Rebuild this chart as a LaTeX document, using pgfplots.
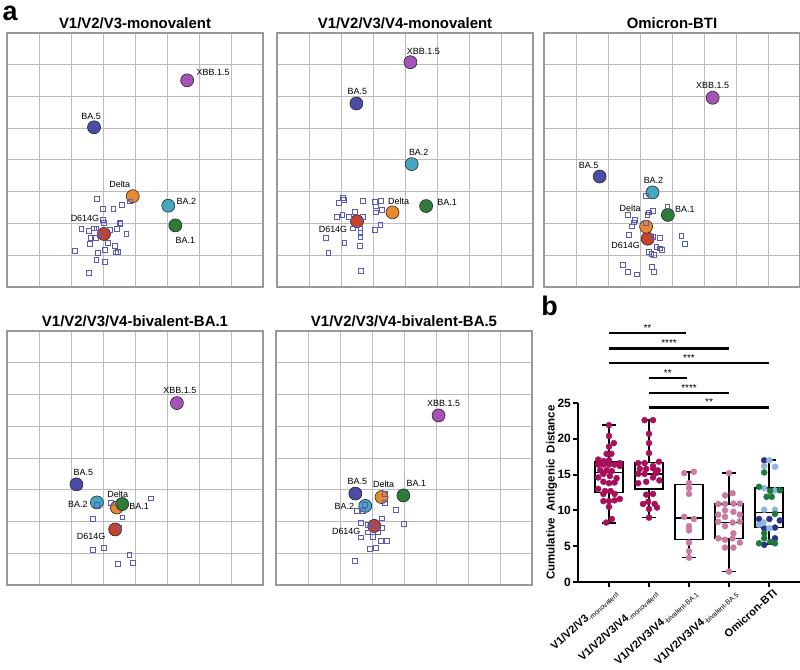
\documentclass[border=0pt]{standalone}
\usepackage{pgfplots}
\pgfplotsset{compat=1.18}
\usepgfplotslibrary{statistics}
\usepackage{fontspec}
\setmainfont{Liberation Sans}

\definecolor{cXBB}{HTML}{A652B6}
\definecolor{cBAfive}{HTML}{4B4BA8}
\definecolor{cDelta}{HTML}{E8892F}
\definecolor{cBAtwo}{HTML}{46A7C1}
\definecolor{cBAone}{HTML}{2F7B3A}
\definecolor{cD}{HTML}{C8422B}
\definecolor{sq}{HTML}{5A5AB8}
\definecolor{gridg}{HTML}{BBBBBB}
\definecolor{borderg}{HTML}{999999}
\definecolor{crim}{HTML}{A8105C}
\definecolor{pinkc}{HTML}{CB7AA2}
\definecolor{navyc}{HTML}{2B3387}
\definecolor{lblue}{HTML}{8DB4E2}
\definecolor{greenc}{HTML}{1C7A3D}

\newcommand{\titfont}{\fontsize{15}{15}\bfseries\selectfont}
\newcommand{\labfont}{\fontsize{9}{9}\selectfont}
\newcommand{\xtfont}{\fontsize{11}{11}\bfseries\selectfont}
\newcommand{\subf}[1]{\raisebox{-2bp}{\fontsize{7}{7}\mdseries\selectfont #1}}
\newcommand{\starf}{\fontsize{10}{10}\selectfont}

\pgfplotsset{
  mapax/.style={anchor=south west, scale only axis, width=256bp, height=254bp,
    xmin=0, xmax=8, ymin=0, ymax=8, xtick={0,...,8}, ytick={0,...,8},
    xticklabels={}, yticklabels={}, major tick length=0pt, grid=major,
    major grid style={gridg, line width=1bp},
    axis line style={borderg, line width=1.4bp}, clip=false,
    every axis title/.style={at={(0.5,1)}, anchor=south, inner sep=0pt, yshift=4bp, font=\titfont}},
  sqp/.style={only marks, mark=square, mark size=2.4bp, draw=sq, mark options={draw=sq, fill=none, line width=0.6bp}},
  sigbar/.style={draw=black, line width=2.4bp, mark=none},
}

% color, x, y, label, dx, dy
\newcommand{\vir}[6]{%
  \addplot[only marks, mark=*, mark size=6.5bp, mark options={fill=#1, draw=black!85, line width=0.6bp}] coordinates {(#2,#3)};
  \node[font=\labfont, inner sep=0pt, xshift=#5bp, yshift=#6bp] at (axis cs:#2,#3) {#4};}

\begin{document}
\begin{tikzpicture}
\useasboundingbox (0,0) rectangle (800bp,670bp);

\node[font=\fontsize{27}{27}\bfseries\selectfont, inner sep=0pt] at (10bp,657bp) {a};
\node[font=\fontsize{27}{27}\bfseries\selectfont, inner sep=0pt] at (549.5bp,364bp) {b};

% Panel 1
\begin{axis}[mapax, at={(7bp,383bp)}, title={V1/V2/V3-monovalent}]
\vir{cD}{3.03}{1.67}{D614G}{-19}{16}
\vir{cDelta}{3.93}{2.86}{Delta}{-13}{12}
\vir{cBAtwo}{5.04}{2.56}{BA.2}{18}{4}
\vir{cBAone}{5.26}{1.94}{BA.1}{10}{-15}
\vir{cBAfive}{2.72}{5.03}{BA.5}{-3}{11}
\vir{cXBB}{5.63}{6.51}{XBB.1.5}{26}{8}
\addplot[sqp] coordinates {(2.81,2.78) (3.00,2.47) (3.32,2.47) (3.59,2.60) (3.83,2.70) (3.00,2.12) (3.03,2.03) (3.52,2.02) (3.54,1.99) (2.32,1.83) (2.56,1.77) (2.71,1.85) (2.79,1.85) (2.90,1.65) (3.21,1.81) (3.44,1.83) (3.73,1.67) (2.60,1.56) (2.77,1.54) (3.16,1.39) (3.36,1.31) (2.58,1.35) (2.11,1.15) (3.05,1.18) (2.84,1.07) (3.40,1.09) (3.47,1.12) (2.79,0.86) (3.05,0.80) (2.56,0.44)};
\end{axis}

% Panel 2
\begin{axis}[mapax, at={(277bp,383bp)}, title={V1/V2/V3/V4-monovalent}]
\vir{cD}{2.50}{2.07}{D614G}{-24}{-8}
\vir{cDelta}{3.61}{2.35}{Delta}{6}{11}
\vir{cBAtwo}{4.21}{3.87}{BA.2}{7}{12}
\vir{cBAone}{4.66}{2.55}{BA.1}{21}{4}
\vir{cBAfive}{2.48}{5.78}{BA.5}{1}{12}
\vir{cXBB}{4.17}{7.08}{XBB.1.5}{13}{11}
\addplot[sqp] coordinates {(2.06,2.81) (2.09,2.74) (1.92,2.65) (2.67,2.72) (3.05,2.69) (3.25,2.71) (3.09,2.54) (3.27,2.44) (3.08,2.35) (2.44,2.38) (2.04,2.28) (1.88,2.22) (2.25,2.22) (2.67,2.20) (2.38,1.85) (2.60,1.85) (2.60,1.71) (2.60,1.58) (3.06,1.81) (3.23,1.96) (1.53,1.54) (2.10,1.40) (2.58,1.31) (1.60,1.08) (2.62,0.50)};
\end{axis}

% Panel 3
\begin{axis}[mapax, at={(544bp,383bp)}, title={Omicron-BTI}]
\vir{cD}{3.24}{1.52}{D614G}{-22}{-7}
\vir{cDelta}{3.19}{1.90}{Delta}{-16}{18}
\vir{cBAtwo}{3.39}{2.98}{BA.2}{1}{12}
\vir{cBAone}{3.87}{2.27}{BA.1}{17}{6}
\vir{cBAfive}{1.74}{3.48}{BA.5}{-11}{11}
\vir{cXBB}{5.27}{5.96}{XBB.1.5}{0}{12}
\addplot[sqp] coordinates {(3.19,2.88) (3.85,2.54) (3.41,2.41) (3.28,2.35) (3.23,2.27) (2.62,2.27) (2.84,2.12) (2.81,2.04) (2.75,1.91) (3.17,2.01) (2.65,1.64) (3.40,1.59) (3.61,1.54) (4.29,1.62) (4.41,1.36) (3.51,1.26) (3.61,1.22) (3.68,1.17) (3.28,1.10) (3.35,1.05) (3.43,1.01) (2.45,0.71) (2.63,0.47) (2.91,0.40) (3.36,0.63) (3.43,0.49)};
\end{axis}

% Panel 4
\begin{axis}[mapax, at={(7bp,85bp)}, title={V1/V2/V3/V4-bivalent-BA.1}]
\vir{cD}{3.38}{1.75}{D614G}{-24}{-7}
\vir{cBAtwo}{2.81}{2.60}{BA.2}{-19}{-2}
\vir{cDelta}{3.43}{2.44}{Delta}{1}{13}
\vir{cBAone}{3.60}{2.55}{BA.1}{17}{-2}
\vir{cBAfive}{2.17}{3.17}{BA.5}{7}{12}
\vir{cXBB}{5.31}{5.73}{XBB.1.5}{3}{13}
\addplot[sqp] coordinates {(4.50,2.73) (3.24,2.59) (2.80,2.52) (3.60,2.13) (2.67,2.09) (3.51,1.80) (2.67,1.11) (3.03,1.17) (3.82,0.94) (3.93,0.70) (3.46,0.67)};
\end{axis}

% Panel 5
\begin{axis}[mapax, at={(276bp,85bp)}, title={V1/V2/V3/V4-bivalent-BA.5}]
\vir{cD}{3.07}{1.86}{D614G}{-28}{-5}
\vir{cDelta}{3.30}{2.77}{Delta}{2}{13}
\vir{cBAone}{3.98}{2.82}{BA.1}{13}{12}
\vir{cBAfive}{2.48}{2.88}{BA.5}{2}{12}
\vir{cBAtwo}{2.79}{2.49}{BA.2}{-21}{0}
\vir{cXBB}{5.08}{5.34}{XBB.1.5}{5}{12}
\addplot[sqp] coordinates {(3.41,2.88) (3.40,2.59) (2.77,2.52) (2.52,2.34) (2.70,2.34) (3.75,2.37) (3.30,2.10) (3.99,1.93) (2.65,1.96) (2.86,1.89) (3.00,1.89) (3.31,1.80) (2.86,1.66) (3.19,1.67) (3.02,1.52) (2.65,1.50) (3.28,1.39) (3.47,1.39) (2.92,1.14) (3.12,1.17) (2.47,0.75)};
\end{axis}

% Panel b
\begin{axis}[at={(578bp,88bp)}, anchor=south west, scale only axis, width=222bp, height=179bp,
  xmin=-0.775, xmax=4.775, ymin=0, ymax=25, clip=false,
  axis x line*=bottom, axis y line*=left,
  axis line style={line width=2.2bp, black, -},
  xtick={0,...,4}, ytick={0,5,...,25},
  xticklabels={{\textbf{V1/V2/V3}\subf{-monovalent}},{\textbf{V1/V2/V3/V4}\subf{-monovalent}},{\textbf{V1/V2/V3/V4}\subf{-bivalent-BA.1}},{\textbf{V1/V2/V3/V4}\subf{-bivalent-BA.5}},{\textbf{Omicron-BTI}}},
  tick align=outside, major tick length=5bp, tick style={line width=2bp, black},
  /pgf/number format/assume math mode=true,
  yticklabel style={font=\fontsize{12}{12}\bfseries\selectfont, inner sep=2bp},
  xticklabel style={rotate=42, anchor=north east, font=\xtfont, inner sep=1bp, xshift=3bp, yshift=-2bp},
  ylabel={Cumulative\ \ Antigenic\ \ Distance},
  every axis y label/.style={at={(axis description cs:-0.118,0.5)}, rotate=90, anchor=center, font=\fontsize{11.5}{11.5}\bfseries\selectfont},
  boxplot/draw direction=y, boxplot/box extend=0.7, boxplot/whisker extend=0.33]
\addplot[boxplot prepared={draw position=0, median=15.3, upper quartile=16.8, lower quartile=12.5, upper whisker=21.9, lower whisker=8.2}, draw=black, fill=white, line width=1.6bp] coordinates {};
\addplot[boxplot prepared={draw position=1, median=15.1, upper quartile=16.7, lower quartile=13.0, upper whisker=22.6, lower whisker=9.0}, draw=black, fill=white, line width=1.6bp] coordinates {};
\addplot[boxplot prepared={draw position=2, median=8.9, upper quartile=13.6, lower quartile=5.95, upper whisker=15.4, lower whisker=3.4}, draw=black, fill=white, line width=1.6bp] coordinates {};
\addplot[boxplot prepared={draw position=3, median=8.3, upper quartile=10.9, lower quartile=6.1, upper whisker=15.2, lower whisker=1.45}, draw=black, fill=white, line width=1.6bp] coordinates {};
\addplot[boxplot prepared={draw position=4, median=9.7, upper quartile=13.1, lower quartile=7.6, upper whisker=17.0, lower whisker=5.3}, draw=black, fill=white, line width=1.6bp] coordinates {};

\addplot[only marks, mark=*, mark size=3bp, color=crim] coordinates {(0,21.9) (0,20.4) (0.12,19.4) (0,18.9) (-0.06,17.9) (0.06,17.9) (-0.27,17.1) (-0.14,16.9) (0,17.0) (0.27,16.6) (-0.27,16.4) (-0.14,16.4) (0,16.4) (0.14,16.4) (-0.22,15.6) (-0.06,15.6) (0.07,15.5) (0.27,16.2) (-0.14,15.1) (0.02,14.8) (-0.27,14.6) (0.19,14.5) (-0.14,14.0) (0,13.8) (0.14,13.9) (-0.27,13.0) (-0.10,12.7) (0.04,12.7) (-0.14,12.3) (0.14,12.3) (-0.14,11.3) (0,11.3) (0.14,11.4) (0.27,11.6) (0,10.5) (0.07,8.8) (-0.07,8.3)};
\addplot[only marks, mark=*, mark size=3bp, color=crim] coordinates {(0.89,22.6) (1.10,22.6) (1,20.7) (1,19.4) (1,18.0) (0.73,16.6) (0.89,16.6) (1.25,16.8) (1.10,16.2) (0.77,15.8) (0.93,15.8) (1.10,15.9) (1.22,15.6) (0.73,15.1) (0.89,15.1) (1.17,15.2) (0.73,13.8) (0.93,14.0) (1.26,14.2) (1.10,14.6) (0.93,12.2) (1.10,12.3) (0.98,11.2) (0.85,10.9) (1.14,10.9) (1,10.2) (1.20,10.4) (1,9.0)};
\addplot[only marks, mark=*, mark size=3bp, color=pinkc] coordinates {(1.88,15.2) (2.12,15.4) (2,13.8) (2,13.1) (2,12.3) (1.88,9.1) (2.12,8.8) (2,7.8) (2,7.2) (2,5.5) (2,4.3) (2,3.4)};
\addplot[only marks, mark=*, mark size=3bp, color=pinkc] coordinates {(3,15.2) (2.90,12.1) (3.09,12.4) (2.73,10.9) (2.90,10.9) (3.11,10.95) (3.27,10.95) (2.90,10.0) (3.11,9.8) (2.73,9.4) (2.90,9.1) (3.27,9.4) (2.73,8.4) (3.09,8.3) (3.27,8.45) (2.90,7.8) (3.11,6.8) (2.73,6.1) (2.90,5.9) (3.09,6.1) (3.27,5.5) (2.90,4.8) (3.11,4.8) (3,1.45)};
\addplot[only marks, mark=*, mark size=3bp, color=navyc] coordinates {(3.88,17.0) (3.75,8.8) (4.01,8.8) (4.27,8.6) (4.15,7.6) (3.88,7.5) (4.15,6.1) (3.88,5.2)};
\addplot[only marks, mark=*, mark size=3bp, color=lblue] coordinates {(4.01,17.0) (3.88,16.2) (4.15,16.1) (3.88,13.1) (4.15,12.8) (3.88,10.1) (4.15,10.1) (3.86,8.3) (3.75,8.0) (4.01,7.5)};
\addplot[only marks, mark=*, mark size=3bp, color=greenc] coordinates {(3.88,15.3) (3.75,13.3) (4.27,12.8) (4.03,12.7) (3.94,11.9) (4.07,11.9) (4.15,9.5) (3.88,6.8) (3.88,6.1) (3.75,5.4) (4.03,5.6) (4.15,5.4)};

\addplot[sigbar] coordinates {(0,34.75) (1.92,34.75)} node[pos=0.5, anchor=south, inner sep=0.5bp, font=\starf] {**};
\addplot[sigbar] coordinates {(0,32.6) (3,32.6)} node[pos=0.5, anchor=south, inner sep=0.5bp, font=\starf] {****};
\addplot[sigbar] coordinates {(0,30.6) (4,30.6)} node[pos=0.5, anchor=south, inner sep=0.5bp, font=\starf] {***};
\addplot[sigbar] coordinates {(1,28.45) (1.94,28.45)} node[pos=0.5, anchor=south, inner sep=0.5bp, font=\starf] {**};
\addplot[sigbar] coordinates {(1,26.4) (3,26.4)} node[pos=0.5, anchor=south, inner sep=0.5bp, font=\starf] {****};
\addplot[sigbar] coordinates {(1,24.35) (4,24.35)} node[pos=0.5, anchor=south, inner sep=0.5bp, font=\starf] {**};
\end{axis}
\end{tikzpicture}
\end{document}
